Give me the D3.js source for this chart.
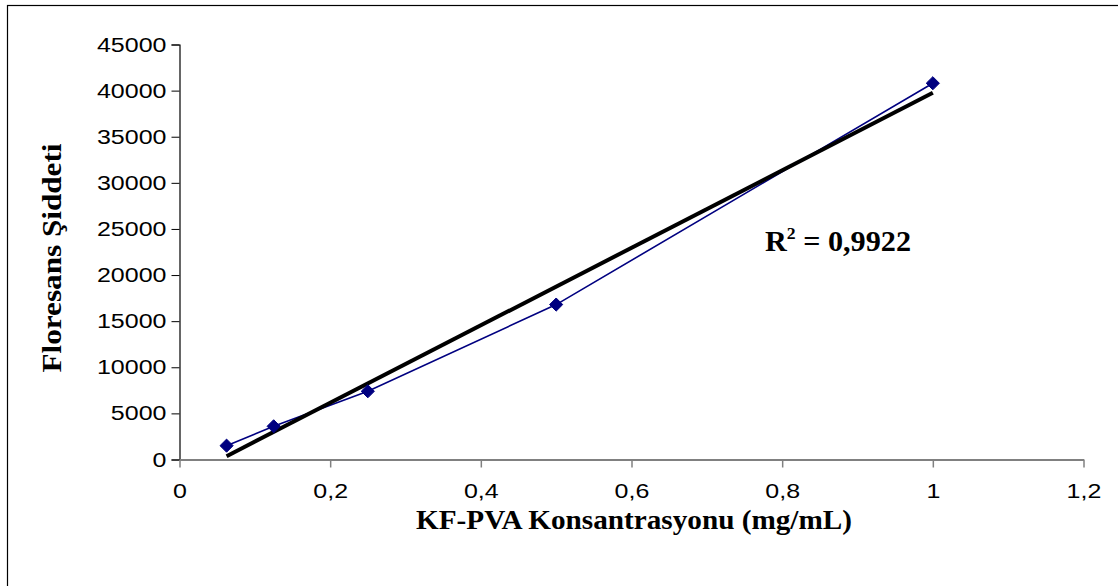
<!DOCTYPE html>
<html>
<head>
<meta charset="utf-8">
<script src="https://cdn.jsdelivr.net/npm/d3@7"></script>
<style>
  html, body { margin: 0; padding: 0; background: #fff; }
  svg { display: block; }
</style>
</head>
<body>
<svg id="chart" width="1118" height="586"></svg>
<script>
// Concentration (mg/mL) and measured fluorescence intensity
const concentrations = [0.0625, 0.125, 0.25, 0.5, 1];
const intensities = [1500, 3600, 7400, 16800, 40800];
const xTickValues = [0, 0.2, 0.4, 0.6, 0.8, 1, 1.2];
const yTickValues = [0, 5000, 10000, 15000, 20000, 25000, 30000, 35000, 40000, 45000];
const xTitle = "KF-PVA Konsantrasyonu (mg/mL)";
const yTitle = "Floresans Şiddeti";

const svg = d3.select("#chart");
const W = 1118, H = 586;
const plot = { left: 179.5, right: 1083.5, top: 44.5, bottom: 459.5 };

// outer chart frame
svg.append("rect")
  .attr("x", 7.5).attr("y", 5.5)
  .attr("width", W).attr("height", H)
  .attr("fill", "#fff").attr("stroke", "#000").attr("stroke-width", 1.2);

const x = d3.scaleLinear().domain([0, 1.2]).range([plot.left, plot.right]);
const y = d3.scaleLinear().domain([0, 45000]).range([plot.bottom, plot.top]);

const fmtComma = d => String(d).replace(".", ",");
const stretch = 1.22;

// y axis
const yAxis = svg.append("g")
  .attr("transform", `translate(${plot.left},0)`)
  .call(d3.axisLeft(y).tickValues(yTickValues).tickSize(8).tickPadding(13).tickFormat(d => d));
yAxis.select(".domain").attr("stroke", "#000").attr("stroke-width", 1.2);
yAxis.selectAll(".tick line").attr("stroke", "#000").attr("stroke-width", 1);
yAxis.selectAll(".tick text")
  .attr("font-family", "'Liberation Sans', Arial, sans-serif")
  .attr("font-size", 20.5).attr("fill", "#000")
  .attr("x", 0)
  .attr("transform", `translate(-13,0) scale(${stretch},1)`);

// x axis
const xAxis = svg.append("g")
  .attr("transform", `translate(0,${plot.bottom})`)
  .call(d3.axisBottom(x).tickValues(xTickValues).tickSize(8).tickSizeOuter(0).tickPadding(16).tickFormat(fmtComma));
xAxis.select(".domain").attr("stroke", "#808080").attr("stroke-width", 2);
xAxis.selectAll(".tick line").attr("stroke", "#808080").attr("stroke-width", 1.5);
xAxis.selectAll(".tick text")
  .attr("font-family", "'Liberation Sans', Arial, sans-serif")
  .attr("font-size", 20.5).attr("fill", "#000")
  .attr("x", 0)
  .attr("transform", `scale(${stretch},1)`);

// data series
const pts = concentrations.map((c, i) => [c, intensities[i]]);
svg.append("path")
  .datum(pts)
  .attr("fill", "none")
  .attr("stroke", "#000080")
  .attr("stroke-width", 1.6)
  .attr("d", d3.line().x(d => x(d[0])).y(d => y(d[1])));

// linear least-squares trend line
const mx = d3.mean(pts, d => d[0]);
const my = d3.mean(pts, d => d[1]);
const sxy = d3.sum(pts, d => (d[0] - mx) * (d[1] - my));
const sxx = d3.sum(pts, d => (d[0] - mx) ** 2);
const slope = sxy / sxx;
const intercept = my - slope * mx;
const xr = d3.extent(concentrations);
svg.append("line")
  .attr("x1", x(xr[0])).attr("y1", y(intercept + slope * xr[0]))
  .attr("x2", x(xr[1])).attr("y2", y(intercept + slope * xr[1]))
  .attr("stroke", "#000").attr("stroke-width", 4);

// diamond markers
svg.selectAll("path.marker")
  .data(pts)
  .enter().append("path")
  .attr("class", "marker")
  .attr("transform", d => `translate(${x(d[0])},${y(d[1])})`)
  .attr("d", d3.symbol().type(d3.symbolDiamond2).size(110))
  .attr("fill", "#000080").attr("stroke", "#000080").attr("stroke-width", 1);

// R² annotation
const r2Text = svg.append("text")
  .attr("x", 765).attr("y", 251)
  .attr("font-family", "'Liberation Serif', 'Times New Roman', serif")
  .attr("font-weight", "bold").attr("font-size", 29)
  .attr("textLength", 146).attr("lengthAdjust", "spacingAndGlyphs")
  .attr("fill", "#000");
r2Text.append("tspan").text("R");
r2Text.append("tspan").attr("dy", -12).attr("font-size", 17).text("2");
r2Text.append("tspan").attr("dy", 12).text(" = 0,9922");

// axis titles
svg.append("text")
  .attr("x", 634).attr("y", 529)
  .attr("text-anchor", "middle")
  .attr("font-family", "'Liberation Serif', 'Times New Roman', serif")
  .attr("font-weight", "bold").attr("font-size", 28)
  .attr("textLength", 436).attr("lengthAdjust", "spacingAndGlyphs")
  .attr("fill", "#000")
  .text(xTitle);

svg.append("text")
  .attr("transform", "translate(61,258) rotate(-90)")
  .attr("text-anchor", "middle")
  .attr("font-family", "'Liberation Serif', 'Times New Roman', serif")
  .attr("font-weight", "bold").attr("font-size", 28)
  .attr("textLength", 229).attr("lengthAdjust", "spacingAndGlyphs")
  .attr("fill", "#000")
  .text(yTitle);
</script>
</body>
</html>
